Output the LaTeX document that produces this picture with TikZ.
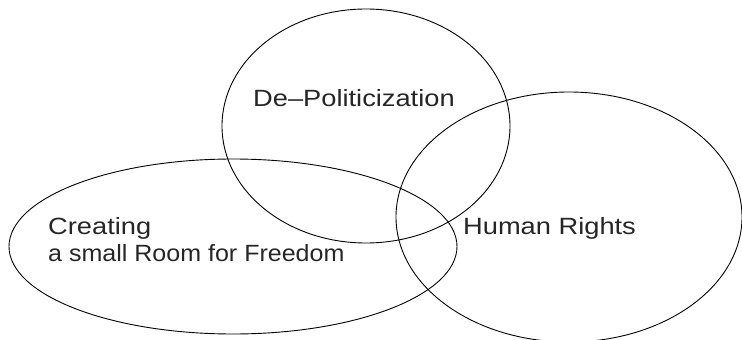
\documentclass[tikz,border=0pt]{standalone}
\usepackage{fontspec}
\setmainfont{Liberation Sans}[FakeStretch=1.16]
\newfontfamily\narrowsans{Liberation Sans}[FakeStretch=1.065]
\usetikzlibrary{shapes.geometric}
\begin{document}
\begin{tikzpicture}[x=1pt,y=-1pt,
  circle set/.style={draw=black, line width=0.9pt, ellipse, inner sep=0pt, minimum width=#1},
  label text/.style={anchor=base west, inner sep=0pt, font=\fontsize{23.5}{26}\selectfont, text=black!85}]
  \useasboundingbox (0,0) rectangle (742,340);
  \clip (0,0) rectangle (742,340);
  % the three overlapping sets
  \node[circle set=288pt, minimum height=234pt] (pol) at (366,126) {};
  \node[circle set=448pt, minimum height=175pt] (room) at (233,246.5) {};
  \node[circle set=346pt, minimum height=250pt] (rights) at (569,217) {};
  % set labels
  \node[label text] (polt) at (253,106) {De–Politicization};
  \node[label text] (hrt) at (463,234) {Human Rights};
  \node[label text] (crt) at (48,234) {Creating};
  \node[label text, font=\fontsize{23.5}{26}\narrowsans] (roomt) at (48,261) {a small Room for Freedom};
\end{tikzpicture}
\end{document}
